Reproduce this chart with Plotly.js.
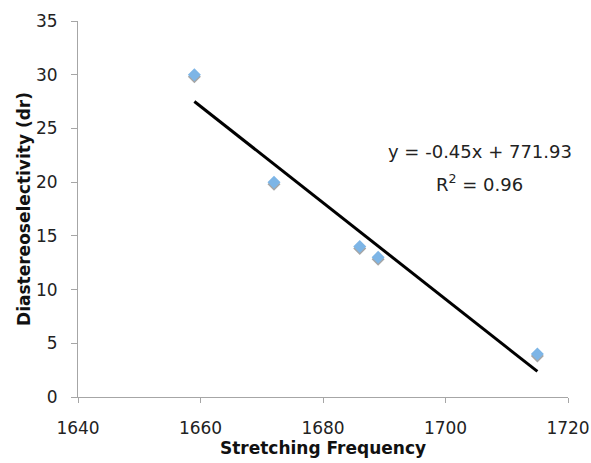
<!DOCTYPE html>
<html>
<head>
<meta charset="utf-8">
<script src="https://cdn.plot.ly/plotly-3.0.1.min.js"></script>
<style>
html,body{margin:0;padding:0;background:#fff;}
#chart{width:591px;height:463px;}
</style>
</head>
<body>
<div id="chart"></div>
<script>
var frequency = [1659, 1672, 1686, 1689, 1715];
var dr = [30, 20, 14, 13, 4];
var xTicks = [1640, 1660, 1680, 1700, 1720];
var yTicks = [0, 5, 10, 15, 20, 25, 30, 35];

// least squares trendline from the data
var n = frequency.length;
var mx = frequency.reduce(function(a,b){return a+b;},0)/n;
var my = dr.reduce(function(a,b){return a+b;},0)/n;
var sxy=0, sxx=0, syy=0;
for (var i=0;i<n;i++){sxy+=(frequency[i]-mx)*(dr[i]-my);sxx+=(frequency[i]-mx)*(frequency[i]-mx);syy+=(dr[i]-my)*(dr[i]-my);}
var slope = sxy/sxx, intercept = my - slope*mx, r2 = sxy*sxy/(sxx*syy);
var xmin = Math.min.apply(null,frequency), xmax = Math.max.apply(null,frequency);
var lineX = [xmin, xmax];
var lineY = lineX.map(function(x){return slope*x+intercept;});

var font = "DejaVu Sans, Verdana, sans-serif";
var data = [
  {x: frequency, y: dr, type:'scatter', mode:'markers', hoverinfo:'skip',
   marker:{symbol:'diamond', size:10, color:'#a6a6a6'}, name:'shadow'},
  {x: frequency, y: dr, type:'scatter', mode:'markers',
   marker:{symbol:'diamond', size:10, color:'#7db5e6'}, name:'data'},
  {x: lineX, y: lineY, type:'scatter', mode:'lines',
   line:{color:'#000', width:3}, name:'trend'}
];
var layout = {
  width:591, height:463, showlegend:false,
  paper_bgcolor:'#fff', plot_bgcolor:'#fff',
  margin:{l:78, r:23, t:21, b:66},
  font:{family:font, size:17, color:'#222'},
  xaxis:{range:[1640,1720], tickvals:xTicks, ticktext:xTicks.map(String),
    showgrid:false, zeroline:false, showline:true, linecolor:'#a6a6a6', linewidth:1,
    ticks:'outside', ticklen:5, tickcolor:'#a6a6a6', ticklabelstandoff:11,
    tickfont:{family:font, size:17, color:'#222'},
    title:{text:'<b>Stretching Frequency</b>', font:{family:font, size:17, color:'#111'}, standoff:3}},
  yaxis:{range:[0,35], tickvals:yTicks, ticktext:yTicks.map(String),
    showgrid:false, zeroline:false, showline:true, linecolor:'#a6a6a6', linewidth:1,
    ticks:'outside', ticklen:6, tickcolor:'#a6a6a6', ticklabelstandoff:10,
    tickfont:{family:font, size:17, color:'#222'},
    title:{text:'<b>Diastereoselectivity (dr)</b>', font:{family:font, size:17, color:'#111'}, standoff:1}},
  annotations:[
    {xref:'paper', yref:'paper', x:0.820, y:0.652, showarrow:false, xanchor:'center', yanchor:'middle',
     text:'y = ' + slope.toFixed(2) + 'x + ' + intercept.toFixed(2), font:{family:font, size:18, color:'#222'}},
    {xref:'paper', yref:'paper', x:0.820, y:0.569, showarrow:false, xanchor:'center', yanchor:'middle',
     text:'R<sup>2</sup> = ' + r2.toFixed(2), font:{family:font, size:18, color:'#222'}}
  ]
};
Plotly.newPlot('chart', data, layout, {staticPlot:true}).then(function(){
  var traces = document.querySelectorAll('.scatterlayer .trace');
  if (traces[0]) traces[0].setAttribute('transform', 'translate(0,2)');
});
</script>
</body>
</html>
